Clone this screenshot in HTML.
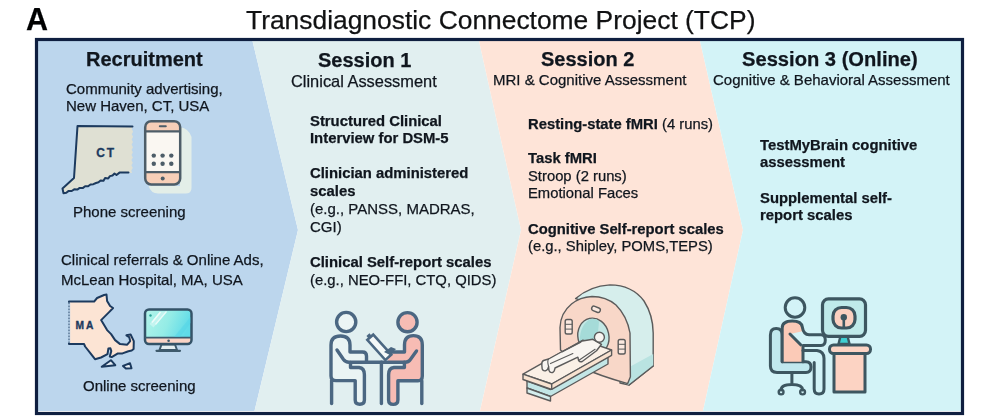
<!DOCTYPE html>
<html><head><meta charset="utf-8">
<style>
html,body{margin:0;padding:0;width:1000px;height:419px;overflow:hidden;background:#fff;}
body{position:relative;font-family:"Liberation Sans",sans-serif;color:#10161e;}
.t{position:absolute;white-space:nowrap;line-height:1;will-change:transform;-webkit-text-stroke:0.25px #10161e;}
svg{position:absolute;left:0;top:0;}
</style></head><body>
<svg width="1000" height="419" viewBox="0 0 1000 419">
  <polygon points="38,41 252.5,41 298,230 254.5,411 38,411" fill="#bcd6ed"/>
  <polygon points="252.5,41 479,41 521,230 480,411 254.5,411 298,230" fill="#e1eff0"/>
  <polygon points="479,41 700,41 743,230 703,411 480,411 521,230" fill="#fee4d8"/>
  <polygon points="700,41 961,41 961,411 703,411 743,230" fill="#d3f3f7"/>
  <rect x="36.5" y="39.5" width="926" height="374" fill="none" stroke="#0f1f40" stroke-width="3.2"/>
<polygon points="77.5,126.0 132.5,126.5 131.8,129.1 133.1,131.7 131.7,134.2 133.1,136.8 131.7,139.4 133.0,142.0 131.6,144.6 133.0,147.2 131.6,149.7 132.9,152.3 131.5,154.9 132.9,157.5 131.4,160.1 132.8,162.7 131.4,165.2 132.8,167.8 131.3,170.4 132.0,173.0 128.5,172.5 128.5,172.5 119.5,172.6 116.5,175.0 114.5,173.5 112.5,175.5 109.9,176.1 108.2,178.5 105.1,177.9 103.5,180.7 100.6,180.5 98.5,182.3 96.0,183.0 96.0,183.0 93.4,184.2 90.5,184.5 88.1,186.3 85.1,186.2 82.7,188.1 79.7,187.9 77.3,189.6 74.2,189.3 71.7,191.0 68.7,190.9 66.3,192.8 63.5,193.2 62.5,188.5 74.0,178.0" fill="#dfe0d3"/>
<polyline points="132.5,126.5 77.5,126.0 74.0,178.0 62.5,188.5 63.5,193.2 66.3,192.8 68.7,190.9 71.7,191.0 74.2,189.3 77.3,189.6 79.7,187.9 82.7,188.1 85.1,186.2 88.1,186.3 90.5,184.5 93.4,184.2 96.0,183.0 96.0,183.0 98.5,182.3 100.6,180.5 103.5,180.7 105.1,177.9 108.2,178.5 109.9,176.1 112.5,175.5 114.5,173.5 116.5,175.0 119.5,172.6 128.5,172.5" fill="none" stroke="#1c3a5e" stroke-width="2" stroke-linejoin="round" stroke-linecap="round"/>
<text x="96.3" y="156.5" font-family="Liberation Sans" font-weight="bold" font-size="12" letter-spacing="1.8" stroke="#1c3a5e" stroke-width="0.3" fill="#1c3a5e">CT</text>
<path d="M180,127 Q189,128.5 191.5,137 L191.5,188 Q191.5,193.5 185.5,193.5 L158,193.5 Q151,193.5 148.5,186 L180,186 Z" fill="#e3eee8"/>
<rect x="145.2" y="121.2" width="35" height="63.3" rx="6" fill="#faf7f2"/>
<path d="M145.2,131 L145.2,127.2 Q145.2,121.2 151.2,121.2 L174.2,121.2 Q180.2,121.2 180.2,127.2 L180.2,131 Z" fill="#f7cfb8"/>
<path d="M145.2,172 L180.2,172 L180.2,178.5 Q180.2,184.5 174.2,184.5 L151.2,184.5 Q145.2,184.5 145.2,178.5 Z" fill="#f7cfb8"/>
<rect x="145.2" y="121.2" width="35" height="63.3" rx="6" fill="none" stroke="#4d5d68" stroke-width="2.5"/>
<line x1="145.2" y1="131.3" x2="180.2" y2="131.3" stroke="#4d5d68" stroke-width="2.2"/>
<line x1="145.2" y1="172.2" x2="180.2" y2="172.2" stroke="#4d5d68" stroke-width="2.2"/>
<line x1="159.8" y1="126.2" x2="165.8" y2="126.2" stroke="#4d5d68" stroke-width="2" stroke-linecap="round"/>
<circle cx="153.8" cy="155.6" r="2.2" fill="#4d5d68"/>
<circle cx="153.8" cy="163.8" r="2.2" fill="#4d5d68"/>
<circle cx="162.6" cy="155.6" r="2.2" fill="#4d5d68"/>
<circle cx="162.6" cy="163.8" r="2.2" fill="#4d5d68"/>
<circle cx="171.3" cy="155.6" r="2.2" fill="#4d5d68"/>
<circle cx="171.3" cy="163.8" r="2.2" fill="#4d5d68"/>
<circle cx="162.7" cy="178.4" r="2" fill="#4d5d68"/>
<polygon points="69.0,301.6 94.1,301.6 97.1,298.0 104.1,295.0 106.5,294.6 107.1,301.0 110.1,306.0 113.1,308.0 109.1,312.1 105.1,316.1 101.1,320.1 104.1,325.1 107.1,330.1 111.1,334.1 115.1,340.1 120.1,344.1 127.2,344.7 130.2,341.1 129.2,337.1 126.4,335.3 130.6,334.5 133.8,341.1 133.6,349 131.7,350.5 128.4,351.2 122.5,353.4 117.5,353.6 111.7,357.1 109.8,356.5 111.3,351 110.4,348.2 108.4,348.5 107.5,354.2 101,357.5 95,359.2 91.1,354.2 85.1,346.5 84.1,344.1 69.0,344.1" fill="#fce4d4" stroke="#1c3a5e" stroke-width="2" stroke-linejoin="round"/>
<line x1="69" y1="302.6" x2="69" y2="343" stroke="#bcd6ed" stroke-width="2.4"/>
<line x1="69" y1="302.6" x2="69" y2="343" stroke="#1c3a5e" stroke-width="1.2" stroke-dasharray="1.6,1.4" opacity="0.75"/>
<polygon points="101.7,366.7 110.9,360.2 115.3,365.2" fill="#e4ebf1" stroke="#1c3a5e" stroke-width="2" stroke-linejoin="round"/>
<polygon points="123,365.9 130,363.2 131.5,368.2 125.9,368.6" fill="#e4ebf1" stroke="#1c3a5e" stroke-width="2" stroke-linejoin="round"/>
<text x="75.6" y="329.3" font-family="Liberation Sans" font-weight="bold" font-size="10.2" letter-spacing="2" stroke="#1c3a5e" stroke-width="0.35" fill="#1c3a5e">MA</text>
<defs><linearGradient id="scr" x1="0" y1="0" x2="1" y2="0.3"><stop offset="0" stop-color="#b4f4ea"/><stop offset="0.55" stop-color="#94ece6"/><stop offset="1" stop-color="#5fdbe8"/></linearGradient></defs>
<path d="M161.5,344.5 L175,344.5 L177,350 L159.5,350 Z" fill="#e4eef0" stroke="#3e5a6c" stroke-width="2" stroke-linejoin="round"/>
<line x1="156.5" y1="350.8" x2="180" y2="350.8" stroke="#3e5a6c" stroke-width="2.2" stroke-linecap="round"/>
<rect x="145" y="309.5" width="46.5" height="34.5" rx="4" fill="url(#scr)"/>
<path d="M145,337.5 L191.5,337.5 L191.5,340 Q191.5,344 187.5,344 L149,344 Q145,344 145,340 Z" fill="#fad4c6"/>
<rect x="145" y="309.5" width="46.5" height="34.5" rx="4" fill="none" stroke="#345368" stroke-width="2.5"/>
<line x1="145" y1="337.6" x2="191.5" y2="337.6" stroke="#3e5a6c" stroke-width="1.8"/>
<circle cx="168.6" cy="340.7" r="1.3" fill="#3e5a6c"/>
<circle cx="150.5" cy="315.5" r="1.2" fill="#2aa39a"/>
<path d="M149.5,324 L160,311.5 L167,311.5 L153.5,327.5 Z" fill="#ffffff" opacity="0.35"/>
<line x1="152" y1="322.5" x2="160.5" y2="312" stroke="#f4fdfb" stroke-width="1.5" opacity="0.9"/>
<line x1="155.5" y1="324.5" x2="166.5" y2="311.5" stroke="#f4fdfb" stroke-width="1.3" opacity="0.8"/>
<path d="M174,337 L190.5,317 L190.5,323 L180,337 Z" fill="#4fd3e6" opacity="0.45"/>
<g fill="none" stroke="#4b6782" stroke-width="3.4" stroke-linecap="round" stroke-linejoin="round">
<path d="M404.4,362.2 L404.4,367.5 L394,367.5 Q388.6,368 388.6,374.7 L388.6,400 Q388.6,404.4 393.2,404.4 Q397.9,404.4 397.9,400 L397.9,380.8 L418,380.8 Q422.3,380.8 422.3,376 L422.3,345 Q422.3,335.6 413.4,335.6 Q404.5,335.6 404.5,345 L404.5,352 L392,352 Q388,352 388,356.5 L388,362.2 Z" fill="#f7bcb4" stroke="none"/>
<path d="M404.4,362.2 L404.4,367.5 L394,367.5 Q388.6,368 388.6,374.7 L388.6,400 Q388.6,404.4 393.2,404.4 Q397.9,404.4 397.9,400 L397.9,380.8 L418,380.8 Q422.3,380.8 422.3,376 L422.3,345 Q422.3,335.6 413.4,335.6 Q404.5,335.6 404.5,345 L404.5,352 L392,352 Q388,352 388,356.5"/>
<circle cx="407.5" cy="322.2" r="9.6" fill="#f7bcb4"/>
<path d="M416.5,351 L410,360 Q408.5,362.2 405,362.2"/>
<path d="M421.8,380.8 L421.8,403.5"/>
<path d="M350.5,362.2 L350.5,367.5 L359,367.5 Q364.4,368 364.4,374.7 L364.4,400 Q364.4,404.2 359.8,404.2 Q355.2,404.2 355.2,400 L355.2,380.6 L336,380.6 Q331,380.6 331,376 L331,345 Q331,336 340.5,336 Q350,336 350,345 L350,352 L362.5,352 Q366.5,352 366.5,356 L366.5,362.2 Z" fill="#eaf4f4" stroke="none"/>
<circle cx="346.2" cy="322" r="9.6" fill="#ecf5f5"/>
<path d="M350.5,362.5 L350.5,367.5 L359,367.5 Q364.4,368 364.4,374.7 L364.4,400 Q364.4,404.2 359.8,404.2 Q355.2,404.2 355.2,400 L355.2,380.6 L336,380.6 Q331,380.6 331,376 L331,345 Q331,336 340.5,336 Q350,336 350,345 L350,352 L362.5,352 Q366.5,352 366.5,356 L366.5,361"/>
<path d="M331.6,380.6 L331.6,403.5"/>
<path d="M337,350 L343.5,359.5 Q345.5,362.2 349,362.2 L404,362.2"/>
<path d="M381.4,362.2 L381.4,403.5"/>
</g>
<g transform="translate(379.3,347.3) rotate(48)"><rect x="-13.5" y="-4" width="27" height="8" fill="#f4f8f8" stroke="#4b6782" stroke-width="2.6"/><rect x="-17" y="-2" width="4" height="4" fill="#4b6782"/></g>
<path d="M384,352 L391,347 L396,349 L390,355 Z" fill="#4b6782"/>
<g stroke="#5b5b5b" stroke-width="1.4" stroke-linejoin="round" stroke-linecap="round">
<path d="M575.6,298.6 Q590,286 609.9,284.9 Q632,285 644,301 Q653,315 653.2,333 L653.2,366 L629.1,385 L620,383 L620,312 Z" fill="#d6eeec"/>
<path d="M653.2,354 L653.2,366 L629.1,385 L624,383 L624,370 Z" fill="#b9e3e1" stroke="none"/>
<path d="M653.2,366 L629.1,385" fill="none"/>
<path d="M560.5,350 L560,327.4 Q560.5,313 571.5,304 Q580,297 592,296.5 Q606,296.5 616,305 Q627,316 630,333 L630.4,376.8 L627.7,383.6 Q600,376 578,366 Z" fill="#f8d7c8"/>
<ellipse cx="593.4" cy="336.5" rx="15.5" ry="18.5" transform="rotate(-12 593.4 336.5)" fill="#c3e8e5"/>
<path d="M580,346 Q578,327 590,319 Q597,318 599,322 L596,352 Z" fill="#a5dbd8" stroke="none"/>
<rect x="591.5" y="307" width="9" height="4.6" rx="2.3" transform="rotate(22 596 309.3)" fill="#fbe9e0"/>
<rect x="565.2" y="319.5" width="7" height="14.5" rx="1.8" fill="#fbe9e0"/>
<path d="M565.5,324.3 L572,324.3 M565.5,329.1 L572,329.1" fill="none" stroke-width="1"/>
<rect x="618.2" y="339.5" width="7" height="14.5" rx="1.8" fill="#fbe9e0"/>
<path d="M618.5,344.3 L625,344.3 M618.5,349.1 L625,349.1" fill="none" stroke-width="1"/>
<path d="M527,381 L550.5,389.5 L608,357 L608,350 L584,343 L527,374 Z" fill="#cbe9e8"/>
<path d="M527,381 L527,388 L550.5,396.5 L608,364 L608,357 L550.5,389.5 Z" fill="#c3e6e6"/>
<path d="M527,388 L527,393 L550.5,401 L550.5,396.5 Z" fill="#d5eeee"/>
<path d="M523,374.2 L551.7,384 L611.6,350 L582.9,340.2 Z" fill="#faf0e6"/>
<path d="M523,374.2 L523,379.5 L551.7,389.3 L611.6,355.3 L611.6,350 L551.7,384 Z" fill="#f8e2d0"/>
<path d="M551.7,384 L551.7,389.3" fill="none"/>
<path d="M592.9,339.3 L582.2,341 L562.2,351.5 L548.6,359 L543.5,360.5 Q541.5,361.5 541.8,365 L542.2,369 Q543,371.3 545.5,370.8 Q548,370 548.6,366.5 L549,370.5 Q550,373 552.5,372.5 Q554.5,371.8 555,368 L577.9,357.2 L578.6,360.5 Q580,362.5 582.2,361.5 L596.5,350.8 L601.5,344.3 Z" fill="#f8f5f1"/>
<path d="M548.6,359 Q547,361 548.6,366.5" fill="none" stroke-width="1.1"/>
<path d="M578.6,360.5 L595.1,349.3" fill="none" stroke-width="1.1"/>
<path d="M550.5,363.6 L572.9,353.6" fill="none" stroke-width="1.1"/>
<path d="M562,352 L580.8,342.2" fill="none" stroke-width="1.1"/>
<circle cx="599.4" cy="337.2" r="5" fill="#f8f5f1"/>
</g>
<g stroke="#3d5660" stroke-width="3" stroke-linejoin="round" stroke-linecap="round">
<rect x="834" y="353.5" width="31" height="38.5" fill="#fcd3c3"/>
<rect x="829.5" y="345" width="41" height="8.5" rx="4" fill="#fcd3c3"/>
<path d="M840.5,336 L847.5,336 L849.5,344 L838.5,344 Z" fill="#3fcfd2" stroke-width="2.4"/>
<rect x="822.5" y="298.8" width="43" height="37.5" rx="6" fill="#bfeaea" stroke-width="3.2"/>
<rect x="833" y="307.5" width="22" height="20.5" rx="8.5" fill="#fbd0c0" stroke-width="3.2"/>
<circle cx="843.8" cy="317.3" r="3.2" fill="#3d5660" stroke="none"/>
<path d="M843.8,317 L843.8,327" stroke-width="2.6"/>
<path d="M776.2,328.6 Q770.4,328.6 770.4,335 L770.4,366 Q770.4,372.4 777,372.4 L806,372.4 Q811,372.4 811,367 Q811,361.7 806,361.7 L782.2,361.7 L782.2,335 Q782.2,328.6 776.2,328.6 Z" fill="#c0e8ee"/>
<path d="M782.2,361.7 L782.2,328 Q782.2,321 792.3,321 Q801.5,321 802.5,327 L803.5,331 L790,334 L801,345.4 L803,345.4 L803,361.7 Z" fill="#fbcab7" stroke="none"/>
<path d="M782.2,361.7 L782.2,328 Q782.2,321 792.3,321 Q801.5,321 802.3,327 Q803.5,334.7 809,334.7 L821,334.7 Q825.3,334.7 825.3,340 Q825.3,345.4 821,345.4 L803,345.4 L803,350.5 L817,350.5 Q824,351.5 824,358.5 L824,389 Q824,394 819,394 Q814.2,394 814.2,389 L814.2,362.5" fill="none"/>
<path d="M790,334 L800.7,344.8" fill="none"/>
<path d="M803,350.5 L803,361.7" fill="none"/>
<path d="M791.9,372.4 L791.9,384.5 M781.1,390 Q781.1,384.5 791.9,384.5 Q802.6,384.5 802.6,390" fill="none"/>
<circle cx="781.1" cy="392" r="2.4" fill="none" stroke-width="2.4"/>
<circle cx="802.6" cy="392" r="2.4" fill="none" stroke-width="2.4"/>
<circle cx="795" cy="307.5" r="9.8" fill="none"/>
</g>
</svg>
<div class="t" style="left:26px;top:3.98px;font-size:30.5px;font-weight:bold;color:#000;">A</div>
<div class="t" style="left:245.5px;top:6.65px;font-size:26.4px;color:#111;">Transdiagnostic Connectome Project (TCP)</div>
<div class="t" style="left:86px;top:48.57px;font-size:20px;font-weight:bold;">Recruitment</div>
<div class="t" style="left:66px;top:80.70px;font-size:15px;">Community advertising,</div>
<div class="t" style="left:66px;top:98.00px;font-size:15px;">New Haven, CT, USA</div>
<div class="t" style="left:73px;top:203.80px;font-size:15px;">Phone screening</div>
<div class="t" style="left:60.5px;top:252.10px;font-size:15px;">Clinical referrals &amp; Online Ads,</div>
<div class="t" style="left:60.5px;top:272.10px;font-size:15px;">McLean Hospital, MA, USA</div>
<div class="t" style="left:83px;top:377.80px;font-size:15px;">Online screening</div>
<div class="t" style="left:318px;top:49.67px;font-size:20px;font-weight:bold;">Session 1</div>
<div class="t" style="left:291px;top:73.42px;font-size:16.4px;">Clinical Assessment</div>
<div class="t" style="left:310px;top:113.73px;font-size:14.85px;font-weight:bold;">Structured Clinical</div>
<div class="t" style="left:310px;top:130.93px;font-size:14.85px;font-weight:bold;">Interview for DSM-5</div>
<div class="t" style="left:310px;top:165.83px;font-size:14.85px;font-weight:bold;">Clinician administered</div>
<div class="t" style="left:310px;top:183.83px;font-size:14.85px;font-weight:bold;">scales</div>
<div class="t" style="left:310px;top:200.90px;font-size:15px;">(e.g., PANSS, MADRAS,</div>
<div class="t" style="left:310px;top:218.80px;font-size:15px;">CGI)</div>
<div class="t" style="left:310px;top:254.73px;font-size:14.85px;font-weight:bold;">Clinical Self-report scales</div>
<div class="t" style="left:310px;top:272.63px;font-size:14.85px;">(e.g., NEO-FFI, CTQ, QIDS)</div>
<div class="t" style="left:541px;top:48.97px;font-size:20px;font-weight:bold;">Session 2</div>
<div class="t" style="left:492.5px;top:72.30px;font-size:15px;">MRI &amp; Cognitive Assessment</div>
<div class="t" style="left:528px;top:116.77px;font-size:14.8px;"><b>Resting-state fMRI</b> (4 runs)</div>
<div class="t" style="left:528px;top:151.47px;font-size:14.8px;font-weight:bold;">Task fMRI</div>
<div class="t" style="left:528px;top:168.87px;font-size:14.8px;">Stroop (2 runs)</div>
<div class="t" style="left:528px;top:185.97px;font-size:14.8px;">Emotional Faces</div>
<div class="t" style="left:528px;top:222.27px;font-size:14.8px;font-weight:bold;">Cognitive Self-report scales</div>
<div class="t" style="left:528px;top:239.17px;font-size:14.8px;">(e.g., Shipley, POMS,TEPS)</div>
<div class="t" style="left:742px;top:48.74px;font-size:20.15px;font-weight:bold;">Session 3 (Online)</div>
<div class="t" style="left:713px;top:71.80px;font-size:15px;">Cognitive &amp; Behavioral Assessment</div>
<div class="t" style="left:760px;top:137.63px;font-size:14.85px;font-weight:bold;">TestMyBrain cognitive</div>
<div class="t" style="left:760px;top:154.63px;font-size:14.85px;font-weight:bold;">assessment</div>
<div class="t" style="left:760px;top:190.63px;font-size:14.85px;font-weight:bold;">Supplemental self-</div>
<div class="t" style="left:760px;top:207.93px;font-size:14.85px;font-weight:bold;">report scales</div>
</body></html>
